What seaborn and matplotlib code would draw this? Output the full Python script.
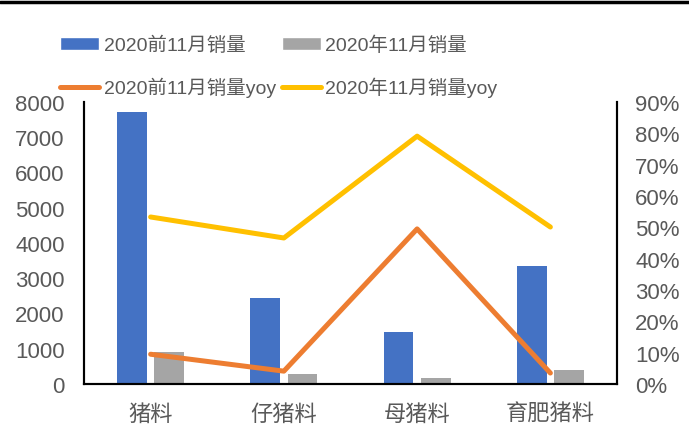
import matplotlib
matplotlib.use("Agg")
import matplotlib.pyplot as plt
from matplotlib.lines import Line2D
from matplotlib.patches import Patch
import seaborn as sns
import pandas as pd

categories = ["猪料", "仔猪料", "母猪料", "育肥猪料"]
sales_ytd = [7720, 2450, 1480, 3350]
sales_nov = [910, 290, 160, 400]
yoy_ytd = [0.095, 0.041, 0.495, 0.035]
yoy_nov = [0.533, 0.466, 0.791, 0.501]
s1, s2 = "2020前11月销量", "2020年11月销量"
l1, l2 = "2020前11月销量yoy", "2020年11月销量yoy"
left_ticks = [0, 1000, 2000, 3000, 4000, 5000, 6000, 7000, 8000]
right_ticks = [i / 10 for i in range(10)]

BLUE, GRAY, ORANGE, YELLOW = "#4472C4", "#A5A5A5", "#ED7D31", "#FFC000"
TXT = "#595959"

sns.set_theme(style="white")
plt.rcParams["font.family"] = ["Liberation Sans", "Noto Sans CJK SC", "DejaVu Sans"]

bars = pd.DataFrame({
    "cat": categories * 2,
    "val": sales_ytd + sales_nov,
    "series": [s1] * 4 + [s2] * 4,
})
lines = pd.DataFrame({
    "cat": categories * 2,
    "val": yoy_ytd + yoy_nov,
    "series": [l1] * 4 + [l2] * 4,
})

fig = plt.figure(figsize=(6.89, 4.27), dpi=100)
ax = fig.add_axes([84 / 689, 42 / 427, 533 / 689, 282 / 427])
sns.barplot(data=bars, x="cat", y="val", hue="series", order=categories,
            palette=[BLUE, GRAY], width=0.56, gap=0.2, errorbar=None,
            legend=False, ax=ax, saturation=1, edgecolor="none")
ax2 = ax.twinx()
sns.pointplot(data=lines, x="cat", y="val", hue="series", order=categories,
              palette=[ORANGE, YELLOW], markers="", errorbar=None, dodge=False,
              linewidth=3.6, legend=False, ax=ax2)
for ln in ax2.lines:
    ln.set_solid_capstyle("round")

ax.set_xlim(-0.5, 3.5)
ax.set_ylim(0, 8000)
ax2.set_ylim(0, 0.9)
ax.set_yticks(left_ticks)
ax.set_yticklabels([str(t) for t in left_ticks])
ax2.set_yticks(right_ticks)
ax2.set_yticklabels([f"{int(round(t * 100))}%" for t in right_ticks])
ax.set_xlabel("")
ax.set_ylabel("")
ax2.set_xlabel("")
ax2.set_ylabel("")

for a in (ax, ax2):
    a.spines["top"].set_visible(False)
    for side in ("left", "right", "bottom"):
        a.spines[side].set_color("black")
        a.spines[side].set_linewidth(1.5)
ax.tick_params(axis="y", length=0, pad=14, labelsize=16, labelcolor=TXT)
ax.tick_params(axis="x", length=0, pad=14, labelsize=16, labelcolor=TXT)
ax2.tick_params(axis="y", length=0, pad=13, labelsize=16, labelcolor=TXT)

handles = [
    Patch(facecolor=BLUE, label=s1),
    Line2D([], [], color=ORANGE, lw=3.6, solid_capstyle="round", label=l1),
    Patch(facecolor=GRAY, label=s2),
    Line2D([], [], color=YELLOW, lw=3.6, solid_capstyle="round", label=l2),
]
leg = fig.legend(handles=handles, ncol=2, loc="upper left",
                 bbox_to_anchor=(60 / 689, 1 - 37 / 427), frameon=False,
                 fontsize=14, handlelength=2.0, handleheight=0.7,
                 handletextpad=0.25, columnspacing=0.3, labelspacing=1.16,
                 borderpad=0, borderaxespad=0)
for t in leg.get_texts():
    t.set_color(TXT)

fig.add_artist(Line2D([0, 1], [1 - 3 / 427, 1 - 3 / 427], color="black",
                      lw=2.5, transform=fig.transFigure))

fig.savefig("out.png", dpi=100)
